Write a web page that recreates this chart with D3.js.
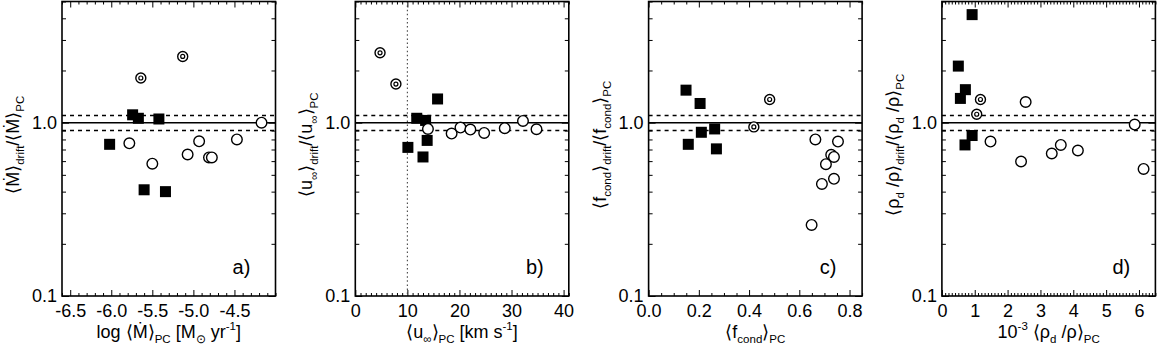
<!DOCTYPE html>
<html><head><meta charset="utf-8">
<script src="https://cdn.jsdelivr.net/npm/d3@7"></script>
<style>
body{margin:0;background:#fff}
svg{display:block}
text{font-family:"Liberation Sans",Arial,Helvetica,sans-serif;fill:#000}
</style>
</head><body>
<svg id="chart" width="1157" height="344"></svg>
<script>
// ---------------- data ----------------
// panel a: log <Mdot>_PC vs ratio
const aFilled = [[-6.02,0.75],[-5.74,1.11],[-5.67,1.06],[-5.42,1.05],[-5.60,0.41],[-5.34,0.40]];
const aOpen   = [[-5.78,0.76],[-5.50,0.58],[-5.07,0.655],[-4.93,0.78],[-4.81,0.63],[-4.775,0.63],[-4.47,0.80],[-4.17,1.00]];
const aDouble = [[-5.64,1.81],[-5.13,2.41]];
// panel b: <u_inf>_PC [km/s]
const bFilled = [[15.8,1.37],[11.8,1.06],[13.5,1.03],[13.8,0.79],[10.1,0.72],[13.0,0.634]];
const bOpen   = [[13.95,0.92],[18.5,0.865],[20.2,0.937],[22.1,0.912],[24.75,0.872],[28.7,0.929],[32.2,1.023],[34.8,0.916]];
const bDouble = [[4.75,2.53],[7.8,1.67]];
// panel c: <f_cond>_PC
const cFilled = [[0.149,1.54],[0.205,1.29],[0.21,0.88],[0.263,0.92],[0.158,0.75],[0.27,0.706]];
const cOpen   = [[0.664,0.80],[0.754,0.778],[0.727,0.652],[0.738,0.634],[0.706,0.576],[0.738,0.474],[0.69,0.443],[0.649,0.257]];
const cDouble = [[0.482,1.36],[0.419,0.945]];
// panel d: 10^-3 <rho_d/rho>_PC
const dFilled = [[0.92,4.2],[0.50,2.12],[0.715,1.55],[0.563,1.38],[0.92,0.843],[0.703,0.744]];
const dOpen   = [[1.48,0.778],[2.55,1.316],[2.41,0.597],[3.345,0.664],[3.62,0.744],[4.14,0.691],[5.87,0.975],[6.14,0.541]];
const dDouble = [[1.174,1.36],[1.06,1.118]];

// axes
const xDomainA = [-6.6, -4.0], xDomainB = [0, 41], xDomainC = [0, 0.85], xDomainD = [0, 6.5];
const yDomain = [0.1, 5];
const xTicksA = [-6.5,-6.0,-5.5,-5.0,-4.5], xTicksB = [0,10,20,30,40], xTicksC = [0.0,0.2,0.4,0.6,0.8], xTicksD = [0,1,2,3,4,5,6];
const xLabelsA = ["-6.5","-6.0","-5.5","-5.0","-4.5"], xLabelsB = ["0","10","20","30","40"], xLabelsC = ["0.0","0.2","0.4","0.6","0.8"], xLabelsD = ["0","1","2","3","4","5","6"];
const xMinorStep = [0.1, 1, 0.05, 0.1];
const yTicks = [0.1, 1.0], yLabels = ["0.1","1.0"];
const yMinor = [0.2,0.3,0.4,0.5,0.6,0.7,0.8,0.9,2,3,4,5];
const refLines = [0.9, 1.0, 1.1];
const bVertical = [10];
const panelTags = ["a)","b)","c)","d)"];
// titles: [text, kind]
const xTitleA = [["log \u27E8\u1E40\u27E9",""],["PC","sub"],[" [M",""],["\u2299","sub"],[" yr",""],["-1","sup"],["]",""]];
const yTitleA = [["\u27E8\u1E40\u27E9",""],["drift","sub"],["/\u27E8\u1E40\u27E9",""],["PC","sub"]];
const xTitleB = [["\u27E8u",""],["\u221E","sub"],["\u27E9",""],["PC","sub"],[" [km s",""],["-1","sup"],["]",""]];
const yTitleB = [["\u27E8u",""],["\u221E","sub"],["\u27E9",""],["drift","sub"],["/\u27E8u",""],["\u221E","sub"],["\u27E9",""],["PC","sub"]];
const xTitleC = [["\u27E8f",""],["cond","sub"],["\u27E9",""],["PC","sub"]];
const yTitleC = [["\u27E8f",""],["cond","sub"],["\u27E9",""],["drift","sub"],["/\u27E8f",""],["cond","sub"],["\u27E9",""],["PC","sub"]];
const xTitleD = [["10",""],["-3","sup"],[" \u27E8\u03C1",""],["d","sub"],[" /\u03C1\u27E9",""],["PC","sub"]];
const yTitleD = [["\u27E8\u03C1",""],["d","sub"],[" /\u03C1\u27E9",""],["drift","sub"],["/\u27E8\u03C1",""],["d","sub"],[" /\u03C1\u27E9",""],["PC","sub"]];

// ---------------- layout ----------------
const svg = d3.select("#chart");
const yTop = 1.5, yBot = 296, pitch = 293.3, left0 = 62, pw = 213.5;
const fsTick = 18, fsTitle = 18;

function rich(sel, parts, fs){
  let off = 0;
  parts.forEach(([t,k]) => {
    const target = k==="sub" ? fs*0.3 : k==="sup" ? -fs*0.42 : 0;
    sel.append("tspan").attr("dy", (target-off).toFixed(2)).attr("font-size", k ? fs*0.64 : fs).text(t);
    off = target;
  });
}
function range(a,b,s){ const out=[]; const n=Math.round((b-a)/s); for(let i=0;i<=n;i++) out.push(+(a+i*s).toFixed(6)); return out; }

const panels = [
  {xd:xDomainA, xt:xTicksA, xl:xLabelsA, ms:xMinorStep[0], f:aFilled, o:aOpen, d:aDouble, xT:xTitleA, yT:yTitleA},
  {xd:xDomainB, xt:xTicksB, xl:xLabelsB, ms:xMinorStep[1], f:bFilled, o:bOpen, d:bDouble, xT:xTitleB, yT:yTitleB, vline:bVertical},
  {xd:xDomainC, xt:xTicksC, xl:xLabelsC, ms:xMinorStep[2], f:cFilled, o:cOpen, d:cDouble, xT:xTitleC, yT:yTitleC},
  {xd:xDomainD, xt:xTicksD, xl:xLabelsD, ms:xMinorStep[3], f:dFilled, o:dOpen, d:dDouble, xT:xTitleD, yT:yTitleD}
];

panels.forEach((p,i) => {
  const L = left0 + i*pitch, R = L + pw;
  const x = d3.scaleLinear().domain(p.xd).range([L,R]);
  const y = d3.scaleLog().domain(yDomain).range([yBot, yTop]);
  const g = svg.append("g");
  const clipId = "clip"+i;
  svg.append("clipPath").attr("id",clipId).append("rect").attr("x",L).attr("y",yTop).attr("width",pw).attr("height",yBot-yTop);

  // minor x ticks
  const start = Math.ceil(p.xd[0]/p.ms - 1e-9)*p.ms;
  const minors = range(start, p.xd[1], p.ms).filter(v => v>=p.xd[0]-1e-9 && v<=p.xd[1]+1e-9 && !p.xt.some(t=>Math.abs(t-v)<1e-6));
  g.append("g").attr("transform",`translate(0,${yBot})`).call(d3.axisBottom(x).tickValues(minors).tickSize(-3).tickFormat(""));
  g.append("g").attr("transform",`translate(0,${yTop})`).call(d3.axisTop(x).tickValues(minors).tickSize(-3).tickFormat(""));
  g.append("g").attr("transform",`translate(0,${yBot})`).call(d3.axisBottom(x).tickValues(p.xt).tickSize(-6).tickPadding(8).tickFormat((d,k)=>p.xl[k]));
  g.append("g").attr("transform",`translate(0,${yTop})`).call(d3.axisTop(x).tickValues(p.xt).tickSize(-6).tickFormat(""));
  // y ticks
  g.append("g").attr("transform",`translate(${L},0)`).call(d3.axisLeft(y).tickValues(yMinor).tickSize(-4).tickFormat(""));
  g.append("g").attr("transform",`translate(${R},0)`).call(d3.axisRight(y).tickValues(yMinor).tickSize(-4).tickFormat(""));
  g.append("g").attr("transform",`translate(${L},0)`).call(d3.axisLeft(y).tickValues(yTicks).tickSize(-7).tickPadding(5).tickFormat((d,k)=>yLabels[k]));
  g.append("g").attr("transform",`translate(${R},0)`).call(d3.axisRight(y).tickValues(yTicks).tickSize(-7).tickFormat(""));
  g.selectAll(".domain").remove();
  g.selectAll(".tick line").attr("stroke","#000").attr("stroke-width",1);
  g.selectAll(".tick text").attr("font-size",fsTick).attr("font-family","Liberation Sans, Arial, sans-serif").attr("fill","#000");

  // reference lines
  const pl = g.append("g").attr("clip-path",`url(#${clipId})`);
  refLines.forEach(v => {
    pl.append("line").attr("x1",L).attr("x2",R).attr("y1",y(v)).attr("y2",y(v))
      .attr("stroke","#000").attr("stroke-width",1.5)
      .attr("stroke-dasharray", v===1.0 ? null : "4,4");
  });
  if (p.vline) p.vline.forEach(v => {
    pl.append("line").attr("x1",x(v)).attr("x2",x(v)).attr("y1",yTop).attr("y2",yBot)
      .attr("stroke","#444").attr("stroke-width",1.1).attr("stroke-dasharray","1.5,2.6");
  });

  // markers
  const s = 11;
  pl.selectAll("rect.f").data(p.f).enter().append("rect")
    .attr("x",d=>x(d[0])-s/2).attr("y",d=>y(d[1])-s/2).attr("width",s).attr("height",s).attr("fill","#000");
  pl.selectAll("circle.o").data(p.o).enter().append("circle")
    .attr("cx",d=>x(d[0])).attr("cy",d=>y(d[1])).attr("r",5.3).attr("fill","#fff").attr("stroke","#000").attr("stroke-width",1.4);
  const dd = pl.selectAll("g.d").data(p.d).enter().append("g");
  dd.append("circle").attr("cx",d=>x(d[0])).attr("cy",d=>y(d[1])).attr("r",5.0).attr("fill","#fff").attr("stroke","#000").attr("stroke-width",1.4);
  dd.append("circle").attr("cx",d=>x(d[0])).attr("cy",d=>y(d[1])).attr("r",2.0).attr("fill","none").attr("stroke","#000").attr("stroke-width",1.2);

  // frame
  g.append("rect").attr("x",L).attr("y",yTop).attr("width",pw).attr("height",yBot-yTop)
    .attr("fill","none").attr("stroke","#000").attr("stroke-width",1.6);

  // panel tag
  g.append("text").attr("x", R-34).attr("y", 274).attr("text-anchor","middle").attr("font-size",20).text(panelTags[i]);

  // titles
  const xt = g.append("text").attr("x",(L+R)/2).attr("y",338).attr("text-anchor","middle").attr("font-size",fsTitle);
  rich(xt, p.xT, fsTitle);
  const yt = g.append("text").attr("transform",`translate(${L-43},${(yTop+yBot)/2 - 4}) rotate(-90)`).attr("text-anchor","middle").attr("font-size",fsTitle);
  rich(yt, p.yT, fsTitle);
});
</script>
</body></html>
